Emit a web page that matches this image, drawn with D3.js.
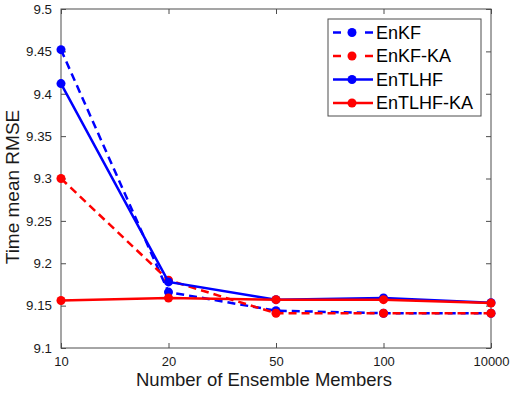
<!DOCTYPE html>
<html>
<head>
<meta charset="utf-8">
<script src="https://cdn.jsdelivr.net/npm/d3@7"></script>
<style>
  body { margin: 0; background: #fff; }
  text { font-family: "Liberation Sans", Arial, sans-serif; }
</style>
</head>
<body>
<script>
const width = 510;
const height = 394;
const margin = {top: 9, left: 61, bottom: 46, right: 19};

// ensemble sizes (categorical x axis)
const members = ['10', '20', '50', '100', '10000'];
const yTicks = [9.1, 9.15, 9.2, 9.25, 9.3, 9.35, 9.4, 9.45, 9.5];

const enkf = [9.452, 9.166, 9.144, 9.141, 9.141];
const enkfKA = [9.300, 9.180, 9.141, 9.141, 9.141];
const entlhf = [9.412, 9.178, 9.157, 9.159, 9.1535];
const entlhfKA = [9.156, 9.159, 9.157, 9.157, 9.153];

const seriesNames = ['EnKF', 'EnKF-KA', 'EnTLHF', 'EnTLHF-KA'];
const series = [
    {name: seriesNames[0], values: enkf, color: '#0000ff', dash: '8,5'},
    {name: seriesNames[1], values: enkfKA, color: '#ff0000', dash: '8,5'},
    {name: seriesNames[2], values: entlhf, color: '#0000ff', dash: null},
    {name: seriesNames[3], values: entlhfKA, color: '#ff0000', dash: null}
];

const x = d3.scalePoint()
    .domain(members)
    .range([margin.left, width - margin.right]);

const y = d3.scaleLinear()
    .domain([9.1, 9.5])
    .range([height - margin.bottom, margin.top]);

const svg = d3.select('body').append('svg')
    .attr('width', width)
    .attr('height', height);

const axisColor = '#4d4d4d';

// box
svg.append('rect')
    .attr('x', margin.left)
    .attr('y', margin.top)
    .attr('width', width - margin.right - margin.left)
    .attr('height', height - margin.bottom - margin.top)
    .attr('fill', 'none')
    .attr('stroke', axisColor)
    .attr('stroke-width', 1);

// bottom axis, ticks point inward
svg.append('g')
    .attr('transform', `translate(0, ${height - margin.bottom})`)
    .call(d3.axisBottom(x).tickSizeInner(-5).tickSizeOuter(0).tickPadding(9))
    .call(g => g.select('.domain').remove())
    .call(g => g.selectAll('line').attr('stroke', axisColor))
    .call(g => g.selectAll('text').attr('font-size', 13).attr('fill', '#1a1a1a'));

svg.append('g')
    .attr('transform', `translate(0, ${margin.top})`)
    .call(d3.axisTop(x).tickSizeInner(-5).tickSizeOuter(0).tickFormat(''))
    .call(g => g.select('.domain').remove())
    .call(g => g.selectAll('line').attr('stroke', axisColor));

// left axis
svg.append('g')
    .attr('transform', `translate(${margin.left}, 0)`)
    .call(d3.axisLeft(y).tickValues(yTicks).tickFormat(d3.format('')).tickSizeInner(-5).tickSizeOuter(0).tickPadding(9))
    .call(g => g.select('.domain').remove())
    .call(g => g.selectAll('line').attr('stroke', axisColor))
    .call(g => g.selectAll('text').attr('font-size', 13.3).attr('fill', '#1a1a1a'));

svg.append('g')
    .attr('transform', `translate(${width - margin.right}, 0)`)
    .call(d3.axisRight(y).tickValues(yTicks).tickSizeInner(-5).tickSizeOuter(0).tickFormat(''))
    .call(g => g.select('.domain').remove())
    .call(g => g.selectAll('line').attr('stroke', axisColor));

// axis labels
svg.append('text')
    .attr('x', 264)
    .attr('y', 386)
    .attr('text-anchor', 'middle')
    .attr('font-size', 18.5)
    .attr('fill', '#1a1a1a')
    .text('Number of Ensemble Members');

svg.append('text')
    .attr('transform', 'translate(19, 187) rotate(-90)')
    .attr('text-anchor', 'middle')
    .attr('font-size', 19)
    .attr('fill', '#1a1a1a')
    .text('Time mean RMSE');

const line = d3.line()
    .x((d, i) => x(members[i]))
    .y(d => y(d));

// draw in order, EnTLHF-KA last so it sits on top
series.forEach(s => {
    const g = svg.append('g');
    g.append('path')
        .attr('d', line(s.values))
        .attr('fill', 'none')
        .attr('stroke', s.color)
        .attr('stroke-width', 2.5)
        .attr('stroke-dasharray', s.dash);
    g.selectAll('circle').data(s.values).enter().append('circle')
        .attr('cx', (d, i) => x(members[i]))
        .attr('cy', d => y(d))
        .attr('r', 4.5)
        .attr('fill', s.color);
});

// legend
const legend = svg.append('g').attr('transform', 'translate(328, 19)');
legend.append('rect')
    .attr('width', 153)
    .attr('height', 97)
    .attr('fill', '#fff')
    .attr('stroke', axisColor)
    .attr('stroke-width', 1);

series.forEach((s, i) => {
    const row = legend.append('g').attr('transform', `translate(0, ${13.5 + i * 23.5})`);
    if (s.dash) {
        [[5, 13], [37, 45]].forEach(seg => {
            row.append('line')
                .attr('x1', seg[0]).attr('x2', seg[1])
                .attr('stroke', s.color)
                .attr('stroke-width', 2.5);
        });
    } else {
        row.append('line')
            .attr('x1', 5).attr('x2', 45)
            .attr('stroke', s.color)
            .attr('stroke-width', 2.5);
    }
    row.append('circle')
        .attr('cx', 24)
        .attr('r', 4.5)
        .attr('fill', s.color);
    row.append('text')
        .attr('x', 48)
        .attr('dy', '0.35em')
        .attr('font-size', 18)
        .attr('fill', '#000')
        .text(s.name);
});
</script>
</body>
</html>
